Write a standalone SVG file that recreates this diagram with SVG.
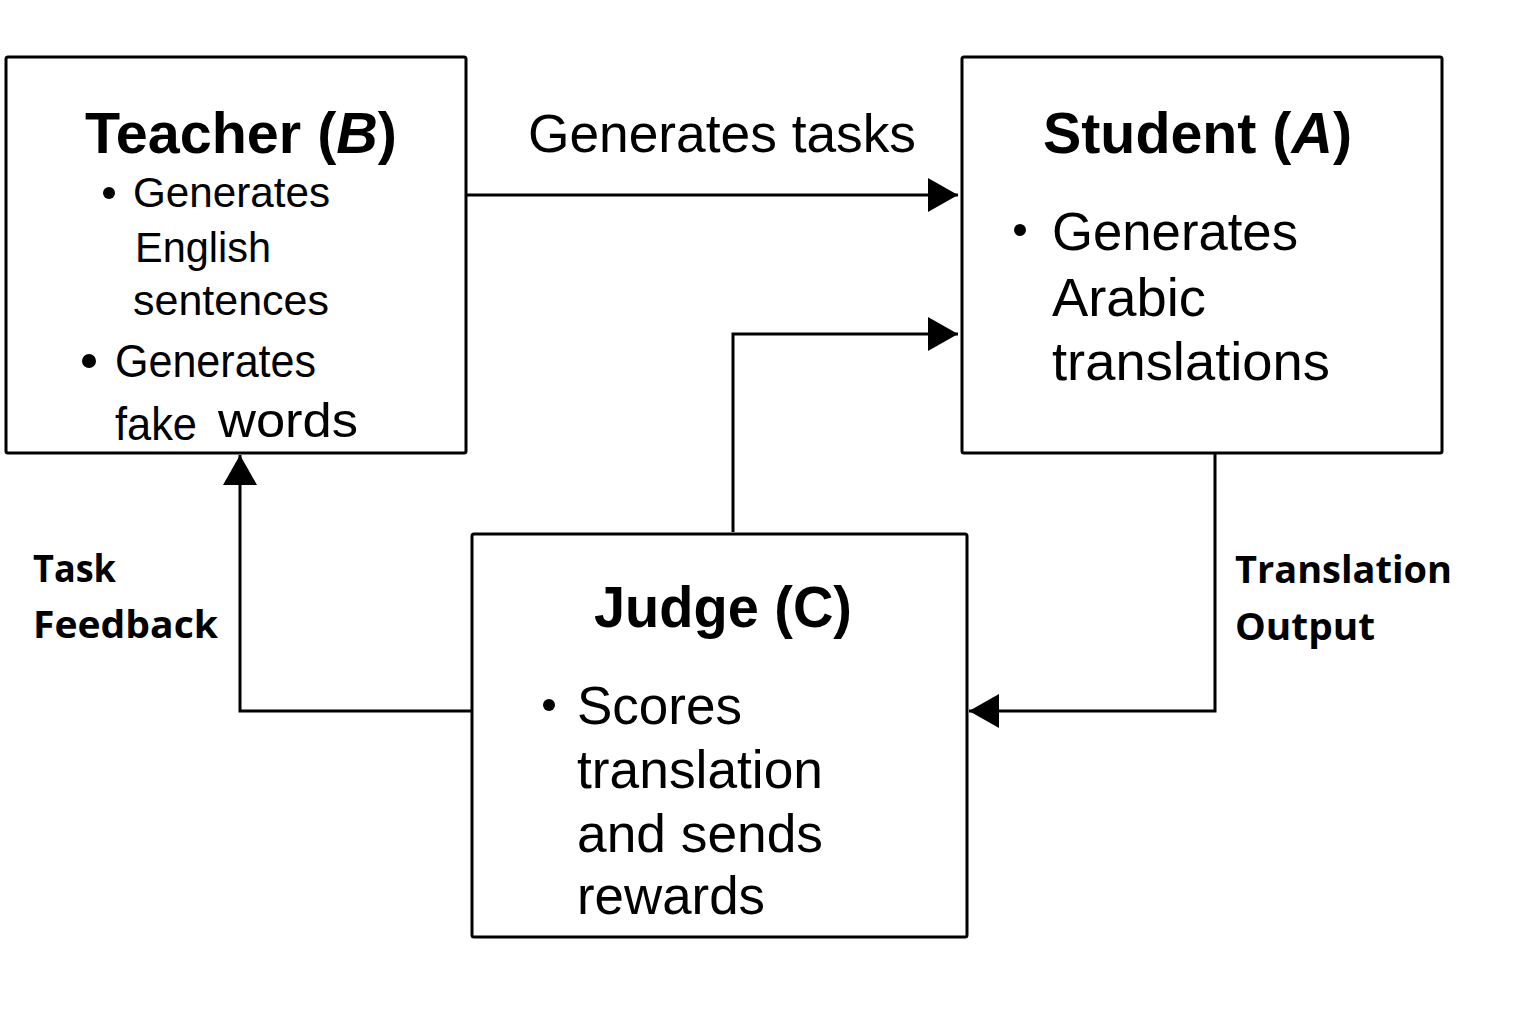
<svg xmlns="http://www.w3.org/2000/svg" width="1536" height="1024" viewBox="0 0 1536 1024">
<defs>
<style>
.box{fill:#fff;stroke:#000;stroke-width:3}
.t{font-family:"Liberation Sans",Arial,sans-serif;fill:#000}
.title{font-weight:bold;font-size:57px}
.body{font-size:53px}
.lbl{font-family:"Open Sans","Liberation Sans",sans-serif;font-weight:bold;font-size:38px;fill:#000}
.c{fill:none;stroke:#000;stroke-width:3}
</style>
<marker id="ah" markerUnits="userSpaceOnUse" markerWidth="32" markerHeight="36" refX="30" refY="17" orient="auto">
<path d="M0,0 L30,17 L0,34 z" fill="#000"/>
</marker>
</defs>
<rect width="1536" height="1024" fill="#fff"/>
<g id="teacher">
<rect class="box" x="6" y="57" width="460" height="396" rx="2"/>
<text class="t title" x="85" y="153" textLength="312" lengthAdjust="spacingAndGlyphs">Teacher (<tspan font-style="italic">B</tspan>)</text>
<circle cx="109" cy="193" r="6"/>
<text class="t" font-size="42" x="133" y="207" textLength="197" lengthAdjust="spacingAndGlyphs">Generates</text>
<text class="t" font-size="42" x="135" y="262" textLength="136" lengthAdjust="spacingAndGlyphs">English</text>
<text class="t" font-size="42" x="133" y="315" textLength="196" lengthAdjust="spacingAndGlyphs">sentences</text>
<circle cx="89" cy="361" r="7"/>
<text class="t" font-size="47" x="115" y="377" textLength="201" lengthAdjust="spacingAndGlyphs">Generates</text>
<text class="t" font-size="47" x="115" y="440" textLength="82" lengthAdjust="spacingAndGlyphs">fake</text>
<text class="t" font-size="48" x="218" y="437" textLength="140" lengthAdjust="spacingAndGlyphs">words</text>
</g>
<g id="student">
<rect class="box" x="962" y="57" width="480" height="396" rx="2"/>
<text class="t title" x="1043" y="153" textLength="309" lengthAdjust="spacingAndGlyphs">Student (<tspan font-style="italic">A</tspan>)</text>
<circle cx="1020" cy="230" r="6"/>
<text class="t body" x="1052" y="250" textLength="246" lengthAdjust="spacingAndGlyphs">Generates</text>
<text class="t body" x="1052" y="316" textLength="154" lengthAdjust="spacingAndGlyphs">Arabic</text>
<text class="t body" x="1052" y="380" textLength="278" lengthAdjust="spacingAndGlyphs">translations</text>
</g>
<g id="judge">
<rect class="box" x="472" y="534" width="495" height="403" rx="2"/>
<text class="t title" x="594" y="627" textLength="258" lengthAdjust="spacingAndGlyphs">Judge (C)</text>
<circle cx="549" cy="705" r="6"/>
<text class="t body" x="577" y="724" textLength="165" lengthAdjust="spacingAndGlyphs">Scores</text>
<text class="t body" x="577" y="788" textLength="246" lengthAdjust="spacingAndGlyphs">translation</text>
<text class="t body" x="577" y="852" textLength="246" lengthAdjust="spacingAndGlyphs">and sends</text>
<text class="t body" x="577" y="914" textLength="188" lengthAdjust="spacingAndGlyphs">rewards</text>
</g>
<g id="connectors">
<path class="c" d="M466,195 L958,195" marker-end="url(#ah)"/>
<path class="c" d="M733,532 L733,334 L958,334" marker-end="url(#ah)"/>
<path class="c" d="M1215,453 L1215,711 L969,711" marker-end="url(#ah)"/>
<path class="c" d="M472,711 L240,711 L240,455" marker-end="url(#ah)"/>
<text class="t" font-size="53" x="528" y="152" textLength="388" lengthAdjust="spacingAndGlyphs">Generates tasks</text>
<text class="lbl" x="33" y="582" textLength="83" lengthAdjust="spacingAndGlyphs">Task</text>
<text class="lbl" x="33" y="638" textLength="185" lengthAdjust="spacingAndGlyphs">Feedback</text>
<text class="lbl" x="1235" y="583" textLength="217" lengthAdjust="spacingAndGlyphs">Translation</text>
<text class="lbl" x="1235" y="640" textLength="140" lengthAdjust="spacingAndGlyphs">Output</text>
</g>
</svg>
